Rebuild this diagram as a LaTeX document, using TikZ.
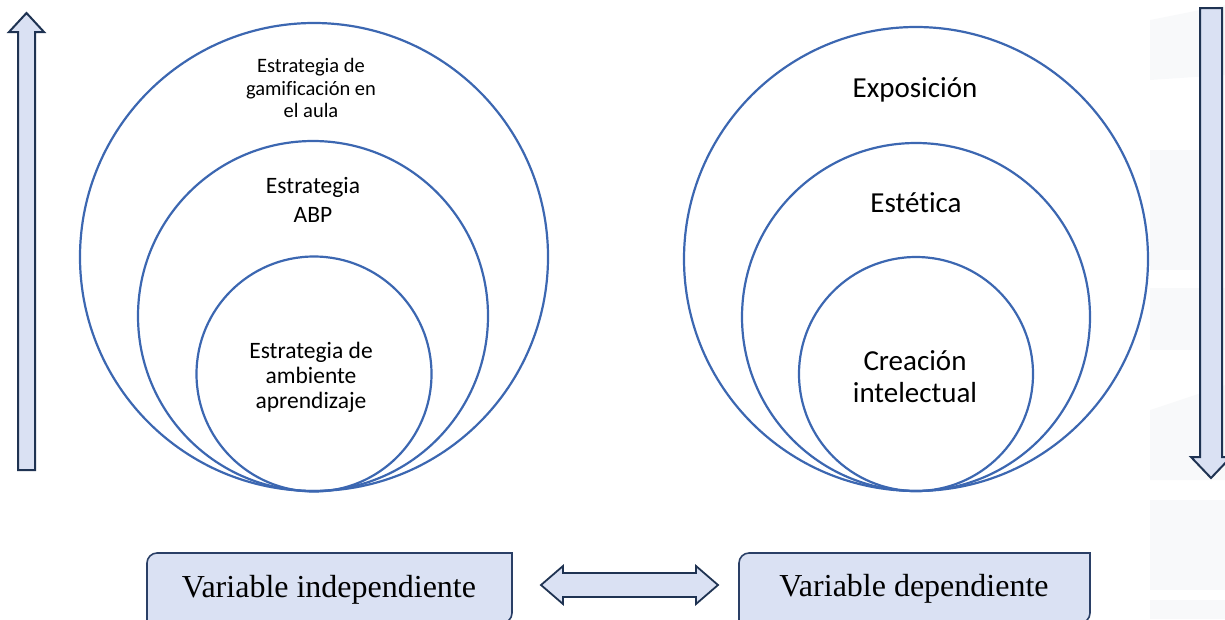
\documentclass[tikz,border=0pt]{standalone}
\usepackage{fontspec}
\setmainfont{Liberation Serif}
\newfontfamily\carl[Ligatures=NoCommon]{Carlito}
\definecolor{circblue}{HTML}{3C67B1}
\definecolor{arrfill}{HTML}{DAE1F3}
\definecolor{arrline}{HTML}{1F3352}
\definecolor{boxline}{HTML}{2A3F66}
\definecolor{wm}{HTML}{F8F9FA}
\begin{document}
\begin{tikzpicture}[x=1pt,y=-1pt,
  circ/.style={draw=circblue,line width=2.2pt,fill=none},
  lbl/.style={inner sep=0pt,align=center,text=black},
  fat/.style={draw=arrline,fill=arrfill,line width=2pt,line join=miter},
  boxshape/.style={draw=boxline,fill=arrfill,line width=1.6pt},
  boxtext/.style={inner sep=0pt,font=\fontsize{32}{35}\selectfont}]
\useasboundingbox (0,0) rectangle (1225,619);
\clip (0,0) rectangle (1225,619);
% faint background panels on the right edge
\fill[wm] (1150,20) -- (1225,5) -- (1225,75) -- (1150,80) -- cycle;
\fill[wm] (1150,150) rectangle (1225,270);
\fill[wm] (1150,288) rectangle (1225,350);
\fill[wm] (1150,410) -- (1225,385) -- (1225,480) -- (1150,480) -- cycle;
\fill[wm] (1150,500) rectangle (1225,590);
\fill[wm] (1150,600) rectangle (1225,619);
% left circles
\draw[circ] (314,257) circle (234pt);
\draw[circ] (313,316) circle (175pt);
\draw[circ] (314,374) circle (117.5pt);
% right circles
\draw[circ] (916,259) circle (232pt);
\draw[circ] (916,317) circle (174pt);
\draw[circ] (916,374) circle (117pt);
% labels
\node[lbl,font=\carl\fontsize{20.5}{22.5}\selectfont] (g1) at (311,88) {Estrategia de\\gamificación en\\el aula};
\node[lbl,font=\carl\fontsize{23.5}{29}\selectfont] (g2) at (313,200) {Estrategia\\ABP};
\node[lbl,font=\carl\fontsize{23.5}{25}\selectfont] (g3) at (311,377) {Estrategia de\\ambiente\\aprendizaje};
\node[lbl,font=\carl\fontsize{29}{32}\selectfont] (r1) at (915,90) {Exposición};
\node[lbl,font=\carl\fontsize{29}{32}\selectfont] (r2) at (916,203) {Estética};
\node[lbl,font=\carl\fontsize{29}{32}\selectfont] (r3) at (915,377) {Creación\\intelectual};
% vertical arrows
\draw[fat] (18,470) -- (18,32) -- (9,32) -- (26.5,13) -- (44,32) -- (35,32) -- (35,470) -- cycle;
\draw[fat] (1200,8) -- (1222,8) -- (1222,457) -- (1231,457) -- (1211,478) -- (1191,457) -- (1200,457) -- cycle;
% bottom boxes
\draw[boxshape] (147,630) -- (147,563) .. controls (147,557.5) and (151.5,553) .. (157,553) -- (512,553) -- (512,613) .. controls (512,618.5) and (507.5,623) .. (502,623) -- (147,623);
\node[boxtext] (vi) at (329,590) {Variable independiente};
\draw[boxshape] (739,630) -- (739,563) .. controls (739,557.5) and (743.5,553) .. (749,553) -- (1090,553) -- (1090,613) .. controls (1090,618.5) and (1085.5,623) .. (1080,623) -- (739,623);
\node[boxtext] (vd) at (914,589) {Variable dependiente};
% double arrow
\draw[fat,line width=1.8pt] (541,585) -- (563,566) -- (563,573) -- (696,573) -- (696,566) -- (718,585) -- (696,604) -- (696,597) -- (563,597) -- (563,604) -- cycle;
\end{tikzpicture}
\end{document}
